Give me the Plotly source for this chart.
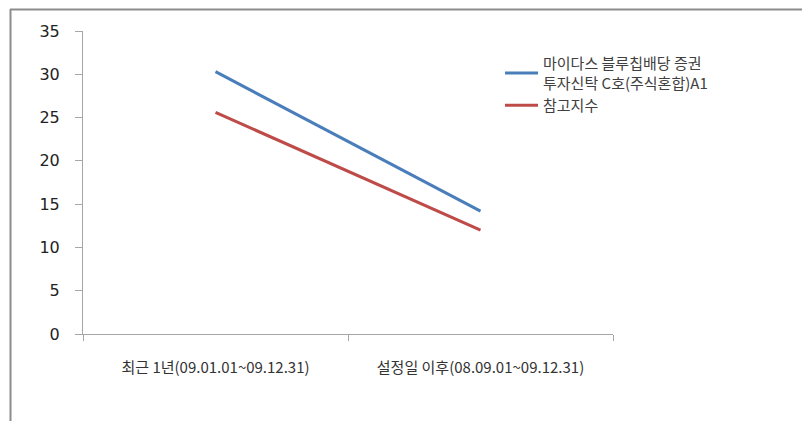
import plotly.graph_objects as go

categories = ["최근 1년(09.01.01~09.12.31)", "설정일 이후(08.09.01~09.12.31)"]
fund_name = "마이다스 블루칩배당 증권<br>투자신탁 C호(주식혼합)A1"
index_name = "참고지수"
fund_values = [30.3, 14.2]
index_values = [25.6, 12.0]
y_ticks = [0, 5, 10, 15, 20, 25, 30, 35]

W, H = 810, 421
OFF = 8  # page body margin
L, R, T, B = 83 - OFF, 613 - OFF, 31 - OFF, 334 - OFF
pw, ph = R - L, B - T

fig = go.Figure()
fig.add_trace(go.Scatter(x=categories, y=fund_values, mode="lines", name=fund_name,
                         line=dict(color="#4A7EBB", width=3)))
fig.add_trace(go.Scatter(x=categories, y=index_values, mode="lines", name=index_name,
                         line=dict(color="#BE4B48", width=3)))

def px_x(x):
    return (x - OFF - L) / pw

def px_y(y):
    return (B - (y - OFF)) / ph

frame_col = "#8C8C8C"
fig.add_shape(type="line", xref="paper", yref="paper",
              x0=px_x(10), x1=px_x(830), y0=px_y(9.5), y1=px_y(9.5),
              line=dict(color=frame_col, width=2))
fig.add_shape(type="line", xref="paper", yref="paper",
              x0=px_x(10.5), x1=px_x(10.5), y0=px_y(9), y1=px_y(440),
              line=dict(color=frame_col, width=2))

fig.update_layout(
    width=W, height=H,
    margin=dict(l=L, r=W - R, t=T, b=H - B, pad=0),
    paper_bgcolor="white", plot_bgcolor="white",
    font=dict(family="Noto Sans CJK KR", color="#333333"),
    showlegend=True,
    legend=dict(x=px_x(500), y=px_y(47), xanchor="left", yanchor="top",
                font=dict(size=15, color="#404040"), bgcolor="rgba(0,0,0,0)",
                itemwidth=33, tracegroupgap=4),
    xaxis=dict(type="category", range=[-0.5, 1.5], showgrid=False,
               showline=True, linecolor="#A6A6A6", linewidth=1,
               ticks="outside", tickson="boundaries", ticklen=6, tickcolor="#A6A6A6",
               ticklabelstandoff=20,
               tickfont=dict(size=15, color="#333333", family="Noto Sans CJK KR"),
               zeroline=False, fixedrange=True),
    yaxis=dict(range=[0, 35], tickvals=y_ticks, showgrid=False,
               showline=True, linecolor="#A6A6A6", linewidth=1,
               ticks="outside", ticklen=7, tickcolor="#A6A6A6",
               ticklabelstandoff=12,
               tickfont=dict(size=16, color="#222222", family="DejaVu Sans"),
               zeroline=False, fixedrange=True),
)

fig.write_html("out.html")
